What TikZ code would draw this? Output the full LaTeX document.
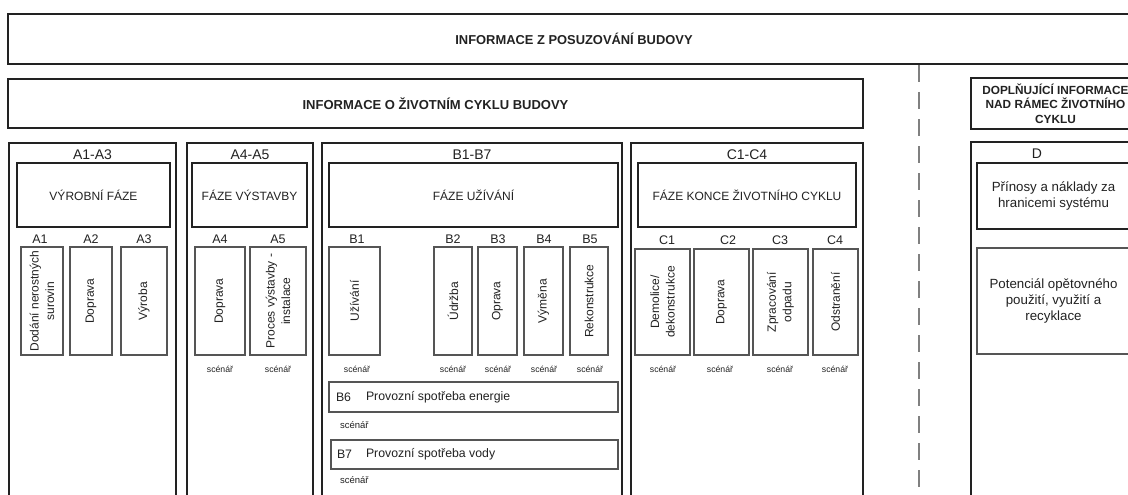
\documentclass[tikz,border=0pt]{standalone}
\usepackage{fontspec}
\setmainfont{Liberation Sans}
\definecolor{ink}{HTML}{222222}
\definecolor{thin}{HTML}{555555}
\definecolor{dashc}{HTML}{808080}
\newcommand{\mybox}[7]{\node[#1, minimum width={#5-#3}, minimum height={#6-#4}] (#2) at ({(#3+#5)/2},{(#4+#6)/2}) {#7};}
\newcommand{\myvbox}[7]{\node[#1, rotate=90, minimum width={#6-#4}, minimum height={#5-#3}] (#2) at ({(#3+#5)/2},{(#4+#6)/2}) {#7};}
\newcommand{\fs}[2]{\fontsize{#1}{#2}\selectfont}
\tikzset{
  base/.style={inner sep=0pt, outer sep=0pt, text=ink, align=center},
  topbox/.style={base, draw=ink, line width=2pt, font=\bfseries\fs{12.9}{14}},
  lcbox/.style={base, draw=ink, line width=1.6pt, font=\bfseries\fs{13}{14}},
  addbox/.style={base, draw=ink, line width=1.6pt, font=\bfseries\fs{11.8}{14.3}},
  colbox/.style={base, draw=ink, line width=1.7pt},
  phasebox/.style={base, draw=ink, line width=2pt, font=\fs{12}{14}},
  smallbox/.style={base, draw=thin, line width=1.1pt, font=\fs{12}{15.5}},
  rowbox/.style={base, draw=thin, line width=1.1pt},
  dbox/.style={base, draw=ink, line width=2pt, font=\fs{13.3}{16}},
  dbox2/.style={base, draw=thin, line width=1.1pt, font=\fs{13.3}{16}},
  coltitle/.style={base, font=\fs{14}{15}},
  sublbl/.style={base, font=\fs{12.5}{13}},
  scen/.style={base, font=\fs{8.7}{10}},
  scenb/.style={base, font=\fs{9.5}{10}, anchor=west},
  rowlbl/.style={base, font=\fs{12.3}{14}, anchor=west},
  sep/.style={draw=dashc, line width=1.2pt, dash pattern=on 17pt off 10pt}
}
\begin{document}
\begin{tikzpicture}[x=1pt,y=-1pt]
\useasboundingbox (0,0) rectangle (1128,495);
\clip (0,0) rectangle (1128,495);
\fill[white] (0,0) rectangle (1128,495);
% top rows
\mybox{topbox}{top}{8}{14}{1140}{64}{INFORMACE Z POSUZOVÁNÍ BUDOVY}
\mybox{lcbox}{lc}{8}{79}{863}{128}{INFORMACE O ŽIVOTNÍM CYKLU BUDOVY}
\mybox{addbox}{add}{971}{78}{1140}{129}{DOPLŇUJÍCÍ INFORMACE\\NAD RÁMEC ŽIVOTNÍHO\\CYKLU}
\coordinate (sepT) at (919,65);
\coordinate (sepB) at (919,495);
\draw[sep] (sepT) -- (sepB);
% columns
\mybox{colbox}{colA}{9}{143}{176}{520}{}
\mybox{colbox}{colAA}{187}{143}{313}{520}{}
\mybox{colbox}{colB}{322}{143}{622}{520}{}
\mybox{colbox}{colC}{631}{143}{863}{520}{}
\mybox{colbox}{colD}{971}{142}{1140}{520}{}
\node[coltitle] (tA) at (92.5,155) {A1-A3};
\node[coltitle] (tAA) at (250,155) {A4-A5};
\node[coltitle] (tB) at (472,155) {B1-B7};
\node[coltitle] (tC) at (747,155) {C1-C4};
\node[coltitle] (tD) at (1037,154) {D};
% phase boxes
\mybox{phasebox}{pA}{17}{163}{170}{227}{VÝROBNÍ FÁZE}
\mybox{phasebox}{pAA}{192}{163}{307}{227}{FÁZE VÝSTAVBY}
\mybox{phasebox}{pB}{329}{163}{618}{227}{FÁZE UŽÍVÁNÍ}
\mybox{phasebox}{pC}{638}{163}{856}{227}{FÁZE KONCE ŽIVOTNÍHO CYKLU}
\mybox{dbox}{pD}{977}{163}{1130}{229}{Přínosy a náklady za\\hranicemi systému}
\mybox{dbox2}{pD2}{977}{248}{1130}{354}{Potenciál opětovného\\použití, využití a\\recyklace}
% sub labels
\node[sublbl] (lA1) at (40,239) {A1};
\node[sublbl] (lA2) at (91,239) {A2};
\node[sublbl] (lA3) at (144,239) {A3};
\node[sublbl] (lA4) at (220,239) {A4};
\node[sublbl] (lA5) at (278,239) {A5};
\node[sublbl] (lB1) at (357,239) {B1};
\node[sublbl] (lB2) at (453,239) {B2};
\node[sublbl] (lB3) at (498,239) {B3};
\node[sublbl] (lB4) at (544,239) {B4};
\node[sublbl] (lB5) at (590,239) {B5};
\node[sublbl] (lC1) at (667,240) {C1};
\node[sublbl] (lC2) at (728,240) {C2};
\node[sublbl] (lC3) at (780,240) {C3};
\node[sublbl] (lC4) at (835,240) {C4};
% vertical boxes
\myvbox{smallbox}{A1}{21}{247}{63}{355}{Dodání nerostných\\surovin}
\myvbox{smallbox}{A2}{70}{247}{112}{355}{Doprava}
\myvbox{smallbox}{A3}{121}{247}{167}{355}{Výroba}
\myvbox{smallbox}{A4}{195}{247}{245}{355}{Doprava}
\myvbox{smallbox}{A5}{250}{247}{306}{355}{Proces výstavby -\\instalace}
\myvbox{smallbox}{B1}{329}{247}{380}{355}{Užívání}
\myvbox{smallbox}{B2}{434}{247}{472}{355}{Údržba}
\myvbox{smallbox}{B3}{478}{247}{517}{355}{Oprava}
\myvbox{smallbox}{B4}{524}{247}{563}{355}{Výměna}
\myvbox{smallbox}{B5}{570}{247}{608}{355}{Rekonstrukce}
\myvbox{smallbox}{C1}{635}{249}{690}{355}{Demolice/\\dekonstrukce}
\myvbox{smallbox}{C2}{694}{249}{749}{355}{Doprava}
\myvbox{smallbox}{C3}{753}{249}{808}{355}{Zpracování\\odpadu}
\myvbox{smallbox}{C4}{813}{249}{858}{355}{Odstranění}
% scenarios
\node[scen] (sA4) at (220,369) {scénář};
\node[scen] (sA5) at (278,369) {scénář};
\node[scen] (sB1) at (357,369) {scénář};
\node[scen] (sB2) at (453,369) {scénář};
\node[scen] (sB3) at (498,369) {scénář};
\node[scen] (sB4) at (544,369) {scénář};
\node[scen] (sB5) at (590,369) {scénář};
\node[scen] (sC1) at (663,369) {scénář};
\node[scen] (sC2) at (720,369) {scénář};
\node[scen] (sC3) at (780,369) {scénář};
\node[scen] (sC4) at (835,369) {scénář};
% B6, B7 rows
\mybox{rowbox}{B6}{329}{382}{618}{412}{}
\node[rowlbl] (B6n) at (336,397) {B6};
\node[rowlbl] (B6t) at (366,397) {Provozní spotřeba energie};
\node[scenb] (sB6) at (340,425) {scénář};
\mybox{rowbox}{B7}{331}{440}{618}{469}{}
\node[rowlbl] (B7n) at (337,454.5) {B7};
\node[rowlbl] (B7t) at (366,454.5) {Provozní spotřeba vody};
\node[scenb] (sB7) at (340,480) {scénář};
\end{tikzpicture}
\end{document}
